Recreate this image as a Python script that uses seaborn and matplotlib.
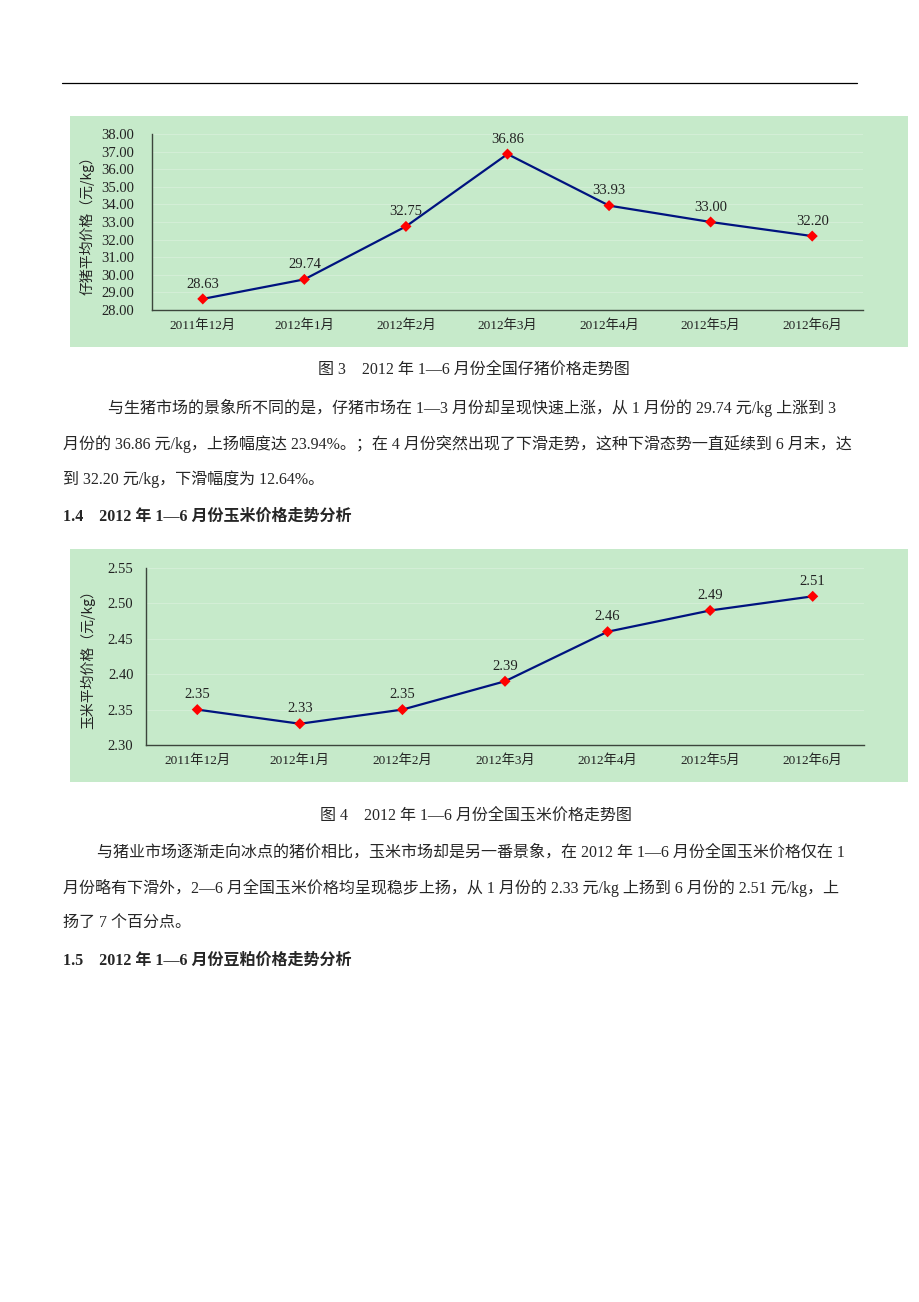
import matplotlib
matplotlib.use("Agg")
import matplotlib.pyplot as plt
import seaborn as sns
import numpy as np
from matplotlib.patches import Rectangle
from matplotlib.lines import Line2D
from matplotlib.ticker import FormatStrFormatter

# ---------------- data ----------------
months = ["2011年12月", "2012年1月", "2012年2月", "2012年3月",
          "2012年4月", "2012年5月", "2012年6月"]
piglet_prices = [28.63, 29.74, 32.75, 36.86, 33.93, 33.00, 32.20]
corn_prices = [2.35, 2.33, 2.35, 2.39, 2.46, 2.49, 2.51]
piglet_yticks = [28, 29, 30, 31, 32, 33, 34, 35, 36, 37, 38]
corn_yticks = [2.30, 2.35, 2.40, 2.45, 2.50, 2.55]
piglet_ylabel = "仔猪平均价格（元/kg）"
corn_ylabel = "玉米平均价格（元/kg）"

caption3 = "图 3    2012 年 1—6 月份全国仔猪价格走势图"
para3 = ["与生猪市场的景象所不同的是，仔猪市场在 1—3 月份却呈现快速上涨，从 1 月份的 29.74 元/kg 上涨到 3",
         "月份的 36.86 元/kg，上扬幅度达 23.94%。；在 4 月份突然出现了下滑走势，这种下滑态势一直延续到 6 月末，达",
         "到 32.20 元/kg，下滑幅度为 12.64%。"]
heading14 = "1.4    2012 年 1—6 月份玉米价格走势分析"
caption4 = "图 4    2012 年 1—6 月份全国玉米价格走势图"
para4 = ["与猪业市场逐渐走向冰点的猪价相比，玉米市场却是另一番景象，在 2012 年 1—6 月份全国玉米价格仅在 1",
         "月份略有下滑外，2—6 月全国玉米价格均呈现稳步上扬，从 1 月份的 2.33 元/kg 上扬到 6 月份的 2.51 元/kg，上",
         "扬了 7 个百分点。"]
heading15 = "1.5    2012 年 1—6 月份豆粕价格走势分析"

# ---------------- style ----------------
sns.set_style("white")
plt.rcParams["font.family"] = ["Liberation Serif", "Noto Sans CJK SC", "DejaVu Sans"]

W, H = 920, 1302
GREEN = "#C6EACA"
NAVY = "#00137F"
RED = "#FF0000"
SPINE = "#3C463C"
MIXED = ["Liberation Serif", "Noto Sans CJK SC"]


def fx(px):
    return px / W


def fy(py):
    return 1 - py / H


fig = plt.figure(figsize=(W / 100, H / 100), dpi=100)
fig.patch.set_facecolor("white")

# header rule
fig.add_artist(Line2D([fx(62), fx(857)], [fy(83), fy(83)], color="black",
                      lw=0.9, transform=fig.transFigure))

# green chart backgrounds
for top, bottom in [(116, 347), (549, 782)]:
    fig.add_artist(Rectangle((fx(70), fy(bottom)), fx(908) - fx(70), fy(top) - fy(bottom),
                             transform=fig.transFigure, facecolor=GREEN,
                             edgecolor="none", zorder=-5))


def draw_chart(rect, values, yticks, ylabel, label_x, ytick_pad):
    ax = fig.add_axes(rect)
    ax.set_facecolor("none")
    ax.yaxis.grid(True, color="#D4EFD7", lw=0.7)
    ax.set_axisbelow(True)
    sns.lineplot(x=months, y=values, ax=ax, color=NAVY, lw=1.6, sort=False,
                 zorder=2)
    sns.scatterplot(x=months, y=values, ax=ax, marker="D", s=32, color=RED,
                    edgecolor="none", zorder=3)
    for i, v in enumerate(values):
        ax.annotate(f"{v:.2f}", (i, v), xytext=(0, 6), textcoords="offset points",
                    ha="center", va="bottom", fontsize=10.5,
                    family="Liberation Serif", color="#222222")
    ax.set_xlim(-0.5, len(months) - 0.5)
    ax.set_ylim(yticks[0], yticks[-1])
    ax.set_yticks(yticks)
    ax.yaxis.set_major_formatter(FormatStrFormatter("%.2f"))
    ax.set_xticks(range(len(months)))
    ax.set_xticklabels(months, family=MIXED, fontsize=9.5, color="#222222")
    ax.set_xticks(np.arange(-0.5, len(months), 1.0), minor=True)
    ax.tick_params(axis="x", which="major", length=0, pad=7)
    ax.tick_params(axis="x", which="minor", length=4, direction="in",
                   color=SPINE, width=1)
    ax.tick_params(axis="y", length=4, direction="in", color=SPINE, width=1,
                   pad=ytick_pad)
    for lab in ax.get_yticklabels():
        lab.set_family("Liberation Serif")
        lab.set_fontsize(10.5)
        lab.set_color("#222222")
    for s in ["top", "right"]:
        ax.spines[s].set_visible(False)
    for s in ["left", "bottom"]:
        ax.spines[s].set_color(SPINE)
        ax.spines[s].set_linewidth(1.0)
    ax.set_xlabel("")
    ax.set_ylabel(ylabel, family=["Noto Sans CJK SC", "DejaVu Sans"],
                  fontsize=10, color="#222222")
    ax.yaxis.set_label_coords(label_x, 0.5)
    return ax


# chart 1: axes x 152-863, y 134-310
ax1 = draw_chart([fx(152), fy(310), fx(863) - fx(152), fy(134) - fy(310)],
                 piglet_prices, piglet_yticks, piglet_ylabel,
                 (95 - 152) / (863 - 152), 13)
# chart 2: axes x 146-864, y 568-745
ax2 = draw_chart([fx(146), fy(745), fx(864) - fx(146), fy(568) - fy(745)],
                 corn_prices, corn_yticks, corn_ylabel,
                 (95 - 146) / (864 - 146), 9)

# ---------------- document text ----------------
BODY = 11.55
fig.text(fx(474), fy(370), caption3, ha="center", va="center", fontsize=BODY,
         family=MIXED)
for (x, y), line in zip([(108, 408), (63, 444), (63, 479)], para3):
    fig.text(fx(x), fy(y), line, ha="left", va="center", fontsize=BODY, family=MIXED)
fig.text(fx(63), fy(517), heading14, ha="left", va="center", fontsize=BODY,
         family=MIXED, fontweight="bold")

fig.text(fx(476), fy(816), caption4, ha="center", va="center", fontsize=BODY,
         family=MIXED)
for (x, y), line in zip([(97, 853), (63, 888), (63, 923)], para4):
    fig.text(fx(x), fy(y), line, ha="left", va="center", fontsize=BODY, family=MIXED)
fig.text(fx(63), fy(961), heading15, ha="left", va="center", fontsize=BODY,
         family=MIXED, fontweight="bold")

fig.savefig("out.png", dpi=100)
